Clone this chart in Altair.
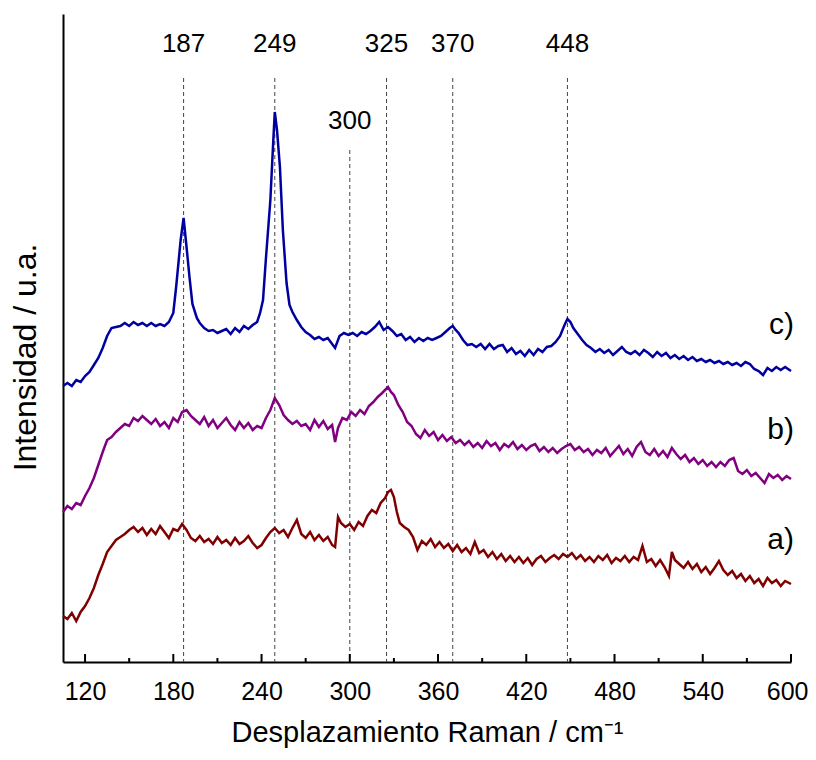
import altair as alt
import pandas as pd

# Raman spectra (wavenumber cm^-1, intensity a.u.)
spectrum_c = [
    (105, 276), (108, 279), (111, 276), (114, 282), (117, 280), (120, 286), (123, 290), (126, 297),
    (129, 304), (132, 314), (135, 326), (138, 334), (141, 335), (144, 336), (147, 339), (150, 336),
    (153, 340), (156, 337), (159, 339), (162, 336), (165, 339), (168, 336), (171, 338), (174, 336),
    (177, 340), (180, 349), (182, 376), (185, 422), (187, 444), (189, 415), (191, 385), (193, 358),
    (196, 344), (198, 339), (201, 334), (204, 331), (207, 332), (210, 329), (213, 331), (216, 333),
    (219, 328), (222, 334), (225, 330), (228, 336), (231, 333), (234, 337), (237, 340), (239, 349),
    (241, 362), (243, 404), (246, 462), (248, 522), (249, 550), (250.5, 532), (252.5, 495), (254.5, 432),
    (257, 379), (259, 357), (261, 350), (264, 342), (267, 335), (270, 330), (273, 327), (276, 323),
    (279, 325), (282, 322), (285, 324), (288, 318), (290, 314), (293, 326), (296, 329), (299, 327),
    (302, 329), (305, 326), (308, 330), (311, 328), (314, 331), (317, 335), (320, 340), (323, 332),
    (326, 335), (329, 331), (332, 326), (335, 328), (338, 322), (341, 325), (344, 320), (347, 324),
    (350, 321), (353, 324), (356, 322), (359, 324), (362, 326), (365, 330), (368, 334), (370, 336),
    (372, 332), (374, 329), (377, 322), (380, 317), (383, 318), (386, 315), (389, 318), (392, 313),
    (395, 318), (398, 313), (401, 316), (404, 317), (407, 310), (410, 314), (413, 308), (416, 311),
    (419, 306), (422, 312), (425, 307), (428, 313), (431, 310), (434, 315), (437, 316), (440, 320),
    (443, 326), (446, 337), (448, 343), (450, 340), (452, 334), (455, 328), (458, 322), (461, 317),
    (464, 314), (467, 310), (470, 313), (473, 309), (476, 312), (479, 307), (482, 311), (485, 315),
    (488, 310), (491, 308), (494, 311), (497, 307), (500, 312), (503, 309), (506, 305), (509, 310),
    (512, 306), (515, 309), (518, 304), (521, 307), (524, 303), (527, 306), (530, 302), (533, 305),
    (536, 301), (539, 303), (542, 300), (545, 302), (548, 299), (551, 301), (554, 298), (557, 300),
    (560, 297), (563, 299), (566, 296), (569, 300), (572, 298), (575, 293), (578, 291), (581, 287),
    (584, 294), (587, 291), (590, 295), (593, 292), (596, 295), (600, 291),
]

spectrum_b = [
    (105, 150), (108, 156), (111, 153), (114, 159), (117, 157), (120, 166), (123, 174), (126, 184),
    (129, 197), (132, 210), (135, 222), (138, 225), (141, 230), (144, 234), (147, 238), (150, 236),
    (153, 244), (156, 241), (159, 246), (162, 242), (165, 238), (168, 243), (171, 236), (174, 240),
    (177, 234), (180, 244), (183, 240), (186, 250), (189, 252), (192, 246), (195, 242), (198, 238),
    (201, 245), (204, 236), (207, 242), (210, 234), (213, 239), (216, 244), (219, 237), (222, 232),
    (225, 240), (228, 234), (231, 239), (234, 232), (237, 236), (240, 234), (243, 244), (246, 252),
    (249, 264), (252, 257), (255, 247), (258, 242), (261, 238), (264, 241), (267, 236), (270, 238),
    (273, 232), (276, 242), (279, 235), (282, 241), (285, 233), (288, 237), (290, 220), (292, 234),
    (295, 244), (298, 242), (301, 250), (304, 246), (307, 252), (310, 248), (313, 256), (316, 260),
    (319, 265), (322, 269), (324, 272), (326, 275), (328, 270), (330, 267), (333, 257), (336, 250),
    (339, 240), (342, 236), (345, 228), (348, 224), (351, 232), (354, 226), (357, 230), (360, 222),
    (363, 227), (366, 221), (369, 225), (372, 219), (375, 222), (378, 217), (381, 221), (384, 215),
    (387, 219), (390, 214), (393, 221), (396, 216), (399, 219), (402, 212), (405, 218), (408, 215),
    (411, 220), (414, 213), (417, 217), (420, 212), (423, 216), (426, 218), (429, 211), (432, 215),
    (435, 210), (438, 214), (441, 209), (444, 213), (447, 216), (450, 218), (453, 212), (456, 215),
    (459, 210), (462, 213), (465, 207), (468, 212), (471, 209), (474, 214), (477, 206), (480, 211),
    (483, 216), (486, 208), (489, 213), (492, 206), (495, 215), (498, 220), (501, 210), (504, 207),
    (507, 213), (510, 206), (513, 211), (516, 205), (519, 214), (522, 208), (525, 203), (528, 207),
    (531, 200), (534, 204), (537, 198), (540, 202), (543, 196), (546, 200), (549, 195), (552, 200),
    (555, 196), (558, 202), (561, 204), (564, 191), (567, 188), (570, 192), (573, 186), (576, 189),
    (579, 184), (582, 179), (585, 188), (588, 184), (591, 187), (594, 182), (597, 186), (600, 183),
]

spectrum_a = [
    (105, 46), (108, 43), (111, 49), (114, 41), (117, 50), (120, 56), (123, 64), (126, 74),
    (129, 87), (132, 98), (135, 110), (138, 116), (141, 122), (144, 125), (147, 128), (150, 132),
    (153, 135), (156, 130), (159, 134), (162, 127), (165, 133), (168, 128), (171, 136), (174, 130),
    (177, 124), (180, 133), (183, 131), (186, 138), (189, 132), (192, 124), (195, 121), (198, 126),
    (201, 120), (204, 123), (207, 118), (210, 125), (213, 119), (216, 122), (219, 117), (222, 124),
    (225, 118), (228, 121), (231, 126), (234, 119), (237, 114), (240, 117), (243, 124), (246, 130),
    (249, 134), (252, 129), (255, 132), (258, 125), (261, 134), (264, 142), (267, 128), (270, 124),
    (273, 130), (276, 122), (279, 127), (282, 121), (285, 125), (288, 117), (290, 115), (292, 145),
    (294, 139), (297, 135), (300, 138), (303, 132), (306, 140), (309, 136), (312, 146), (315, 152),
    (318, 149), (321, 159), (324, 164), (326, 170), (328, 172), (330, 165), (332, 150), (334, 139),
    (337, 135), (340, 132), (343, 125), (346, 112), (349, 121), (352, 117), (355, 123), (358, 115),
    (361, 120), (364, 114), (367, 118), (370, 111), (373, 117), (376, 110), (379, 114), (382, 108),
    (385, 120), (388, 109), (391, 112), (394, 105), (397, 110), (400, 103), (403, 108), (406, 101),
    (409, 106), (412, 100), (415, 105), (418, 99), (421, 104), (424, 97), (427, 103), (430, 106),
    (433, 100), (436, 104), (439, 107), (442, 103), (445, 108), (448, 105), (451, 109), (454, 103),
    (457, 107), (460, 101), (463, 105), (466, 100), (469, 106), (472, 102), (475, 107), (478, 99),
    (481, 104), (484, 101), (487, 106), (490, 100), (493, 105), (496, 102), (499, 116), (502, 100),
    (505, 103), (508, 96), (511, 102), (514, 95), (517, 86), (519, 110), (521, 102), (524, 98),
    (527, 94), (530, 100), (533, 93), (536, 98), (539, 90), (542, 95), (545, 88), (548, 94),
    (551, 101), (554, 92), (557, 87), (560, 91), (563, 84), (566, 88), (569, 81), (572, 86),
    (575, 79), (578, 83), (581, 76), (584, 84), (587, 79), (590, 82), (593, 76), (596, 81), (600, 78),
]

series_names = ["a)", "b)", "c)"]
series_colors = ["#800000", "#800080", "#0000a0"]
series_label_y = [122, 232, 337]

peak_positions = [187, 249, 300, 325, 370, 448]
peak_line_top = [584, 584, 512, 584, 584, 584]
peak_label_y = [618, 618, 541, 618, 618, 618]

major_ticks = [120, 180, 240, 300, 360, 420, 480, 540, 600]
minor_ticks = [150, 210, 270, 330, 390, 450, 510, 570]

FONT = "Liberation Sans"

rows = []
for name, spec in zip(series_names, [spectrum_a, spectrum_b, spectrum_c]):
    for x, y in spec:
        rows.append({"x": x, "y": y, "series": name})
lines_df = pd.DataFrame(rows)

peaks_df = pd.DataFrame({
    "x": peak_positions,
    "y": peak_line_top,
    "y2": [0] * len(peak_positions),
    "ly": peak_label_y,
    "label": [str(p) for p in peak_positions],
})

labels_df = pd.DataFrame({"x": [600] * 3, "y": series_label_y, "label": series_names})

ticks_df = pd.DataFrame({
    "x": major_ticks + minor_ticks,
    "y": [0] * (len(major_ticks) + len(minor_ticks)),
    "y2": [8] * len(major_ticks) + [4] * len(minor_ticks),
})

x_enc = alt.X(
    "x:Q",
    scale=alt.Scale(domain=[105, 600], nice=False, zero=False),
    axis=alt.Axis(
        values=major_ticks, title="Desplazamiento Raman / cm⁻¹", tickSize=0,
        labelFontSize=25, labelFont=FONT, labelColor="black", labelPadding=17,
        labelFlush=True, labelFlushOffset=17, titleFontSize=29, titleFont=FONT,
        titleFontWeight="normal", titleColor="black", titlePadding=14,
        domainColor="black", domainWidth=2, grid=False,
    ),
)
y_enc = alt.Y(
    "y:Q",
    scale=alt.Scale(domain=[0, 648], nice=False, zero=False),
    axis=alt.Axis(
        title="Intensidad / u.a.", labels=False, ticks=False, grid=False,
        titleFontSize=32, titleFont=FONT, titleFontWeight="normal", titleColor="black",
        titlePadding=21, titleY=343, domainColor="black", domainWidth=2,
    ),
)

lines = alt.Chart(lines_df).mark_line(strokeWidth=2.5).encode(
    x=x_enc, y=y_enc,
    color=alt.Color("series:N", scale=alt.Scale(domain=series_names, range=series_colors), legend=None),
)

rules = alt.Chart(peaks_df).mark_rule(strokeDash=[4, 3], color="#444444", strokeWidth=1).encode(
    x=x_enc, y=y_enc, y2="y2:Q"
)

peak_text = alt.Chart(peaks_df).mark_text(fontSize=26, font=FONT, color="black", baseline="middle").encode(
    x=x_enc, y=alt.Y("ly:Q", scale=alt.Scale(domain=[0, 648], nice=False, zero=False)), text="label:N"
)

series_text = alt.Chart(labels_df).mark_text(
    fontSize=30, font=FONT, color="black", align="right", baseline="middle", dx=3
).encode(x=x_enc, y=y_enc, text="label:N")

ticks = alt.Chart(ticks_df).mark_rule(color="black", strokeWidth=2).encode(
    x=x_enc, y=y_enc, y2="y2:Q"
)

chart = alt.layer(rules, lines, peak_text, series_text, ticks).properties(
    width=728, height=648,
    autosize=alt.AutoSizeParams(type="none"),
    padding={"left": 55, "top": 6, "right": 17, "bottom": 88},
).configure_view(stroke=None)

chart.save("out.html", embed_options={"renderer": "svg", "actions": False})
